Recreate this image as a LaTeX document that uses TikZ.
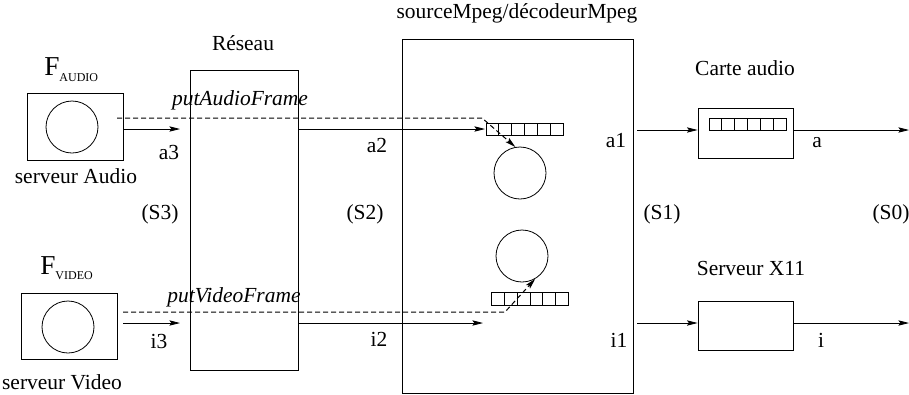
\documentclass[tikz,border=0pt]{standalone}
\usepackage{fontspec}
\setmainfont{Liberation Serif}
\usetikzlibrary{arrows.meta,calc}
\tikzset{
  every node/.style={font=\fontsize{16.1}{19}\selectfont},
  ln/.style={line width=0.6pt},
  arr/.style={ln,-{Stealth[length=8pt,width=4pt,inset=1.5pt]}},
  dsh/.style={line width=0.75pt,dash pattern=on 3.75pt off 2.25pt},
  box/.style={draw,ln,inner sep=0pt},
  circ/.style={draw,ln,circle,inner sep=0pt,minimum size=39pt},
  lab/.style={anchor=base,inner sep=0pt},
  queue/.style={draw,ln,inner sep=0pt,minimum width=57.75pt,minimum height=9.5pt,
    path picture={\foreach \k in {1,...,5}{\draw[ln]
      ($(path picture bounding box.south west)!\k/6!(path picture bounding box.south east)$) --
      ($(path picture bounding box.north west)!\k/6!(path picture bounding box.north east)$);}}}
}
\begin{document}
\begin{tikzpicture}[x=0.75pt,y=-0.75pt]
\useasboundingbox (0,0) rectangle (909,394);

% servers
\node[box,minimum width=72pt,minimum height=50.25pt] (sa) at (75,126.5) {};
\node[circ] (ca) at (72,127) {};
\node[box,minimum width=72pt,minimum height=49.5pt] (sv) at (69,326) {};
\node[circ] (cv) at (68,327) {};
\node[anchor=base west,inner sep=0pt] (fa) at (44,75) {{\fontsize{20.5}{21}\selectfont F}\raisebox{-4.5pt}{\fontsize{9}{10}\selectfont AUDIO}};
\node[anchor=base west,inner sep=0pt] (fv) at (40,274) {{\fontsize{20.5}{21}\selectfont F}\raisebox{-4pt}{\fontsize{9}{10}\selectfont VIDEO}};
\node[lab] (lsa) at (76,183) {serveur Audio};
\node[lab] (lsv) at (62,389) {serveur Video};

% reseau
\node[box,minimum width=81pt,minimum height=225pt] (res) at (244,220) {};
\node[lab] (lres) at (243,50) {Réseau};

% source
\node[box,minimum width=173.25pt,minimum height=265.5pt] (src) at (517.5,216) {};
\node[lab] (lsrc) at (517,18) {sourceMpeg/décodeurMpeg};
\node[queue] (qa) at (524.5,129.5) {};
\node[circ] (uc) at (520,173) {};
\node[circ] (lc) at (522,256) {};
\node[queue] (qv) at (530,299) {};

% right
\node[box,minimum width=71.25pt,minimum height=37.5pt] (ca2) at (745.5,133) {};
\node[queue] (qc) at (747.5,124.5) {};
\node[lab] (lca) at (745,75) {Carte audio};
\node[box,minimum width=71.25pt,minimum height=36.75pt] (x11) at (745.5,325.5) {};
\node[lab] (lx) at (751,275) {Serveur X11};

% coordinates
\coordinate (a3s) at (123,129);
\coordinate (a3e) at (180,129);
\coordinate (a2s) at (298,129);
\coordinate (a2e) at (485,129);
\coordinate (a1s) at (637,130);
\coordinate (aout) at (909,130);
\coordinate (i3s) at (123,323);
\coordinate (i3e) at (180,323);
\coordinate (i2s) at (298,323);
\coordinate (i2e) at (483,323);
\coordinate (i1s) at (637,323);
\coordinate (iout) at (909,323);
\coordinate (das) at (117,118);
\coordinate (dam) at (482,118);
\coordinate (dvs) at (123,312);
\coordinate (dvm) at (505,312);

% arrows
\draw[arr] (a3s) -- (a3e);
\draw[arr] (a2s) -- (a2e);
\draw[arr] (a1s) -- (ca2.west |- a1s);
\draw[arr] (ca2.east |- aout) -- (aout);
\draw[arr] (i3s) -- (i3e);
\draw[arr] (i2s) -- (i2e);
\draw[arr] (i1s) -- (x11.west |- i1s);
\draw[arr] (x11.east |- iout) -- (iout);
\draw[dsh,-{Stealth[length=8pt,width=4pt,inset=1.5pt]}] (das) -- (dam) -- (uc.100);
\draw[dsh,-{Stealth[length=8pt,width=4pt,inset=1.5pt]}] (dvs) -- (dvm) -- (lc.-60);

% labels
\node[lab] (la3) at (169,159) {a3};
\node[lab] (li3) at (159,348) {i3};
\node[lab] (lpa) at (240,105) {\itshape putAudioFrame};
\node[lab] (lpv) at (234,302) {\itshape putVideoFrame};
\node[lab] (la2) at (377,152) {a2};
\node[lab] (li2) at (379,346) {i2};
\node[lab] (la1) at (616,147) {a1};
\node[lab] (la) at (817,147) {a};
\node[lab] (li1) at (619,347) {i1};
\node[lab] (li) at (821,347) {i};
\node[lab] (s3) at (160,219) {(S3)};
\node[lab] (s2) at (365,219) {(S2)};
\node[lab] (s1) at (662,219) {(S1)};
\node[lab] (s0) at (891,219) {(S0)};
\end{tikzpicture}
\end{document}
